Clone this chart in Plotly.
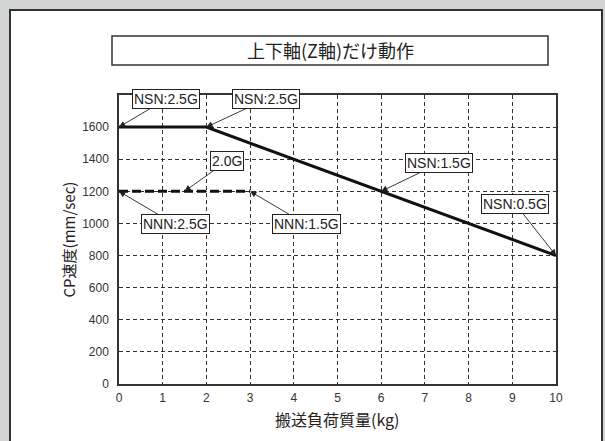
import plotly.graph_objects as go

# data
nsn_x = [0, 2, 10]
nsn_y = [1600, 1600, 800]
nnn_x = [0, 3]
nnn_y = [1200, 1200]

# labelled points: text, x, y, arrow offset (px)
label_text = ["NSN:2.5G", "NSN:2.5G", "2.0G", "NNN:2.5G", "NNN:1.5G", "NSN:1.5G", "NSN:0.5G"]
label_x = [0, 2, 1.5, 0, 3, 6, 10]
label_y = [1600, 1600, 1200, 1200, 1200, 1200, 800]
label_ax = [47, 60, 42, 56, 56, 58, -41]
label_ay = [-28, -28, -30, 33, 33, -28, -52]

y_ticks = [0, 200, 400, 600, 800, 1000, 1200, 1400, 1600]
x_ticks = list(range(0, 11))

title_text = "上下軸(Z軸)だけ動作"
x_title = "搬送負荷質量(kg)"
y_title = "CP速度(mm/sec)"

# plot area in pixels
L, R, T, B = 119, 49, 95, 57
W, H = 605, 441
pw, ph = W - L - R, H - T - B


def px(x):
    return (x - L) / pw


def py(y):
    return (H - B - y) / ph


jp = "Noto Sans CJK JP"
lat = "Liberation Sans, Arial, sans-serif"

fig = go.Figure()
fig.add_trace(go.Scatter(x=nsn_x, y=nsn_y, mode="lines",
                         line=dict(color="#111", width=3), showlegend=False))
fig.add_trace(go.Scatter(x=nnn_x, y=nnn_y, mode="lines",
                         line=dict(color="#111", width=3, dash="9px,4px"), showlegend=False))

for t, x, y, ax, ay in zip(label_text, label_x, label_y, label_ax, label_ay):
    fig.add_annotation(x=x, y=y, text=t, ax=ax, ay=ay, showarrow=True,
                       arrowhead=2, arrowsize=1.4, arrowwidth=0.9, arrowcolor="#222",
                       bgcolor="white", bordercolor="#222", borderwidth=1, borderpad=1,
                       font=dict(family=lat, size=14, color="#222"))

# outer panel and title box
fig.add_shape(type="rect", xref="paper", yref="paper", layer="below",
              x0=px(10), x1=px(602), y0=py(460), y1=py(10),
              fillcolor="white", line=dict(color="#333", width=2))
fig.add_shape(type="rect", xref="paper", yref="paper",
              x0=px(112), x1=px(548), y0=py(65), y1=py(36),
              fillcolor="white", line=dict(color="#333", width=1.5))
fig.add_annotation(xref="paper", yref="paper", x=px(330), y=py(50.5), text=title_text,
                   xanchor="center", yanchor="middle",
                   showarrow=False, font=dict(family=jp, size=18, color="#222"))

fig.add_annotation(xref="paper", yref="paper", x=px(68), y=0.5, text=y_title,
                   xanchor="center", yanchor="middle",
                   textangle=-90, showarrow=False, font=dict(family=jp, size=15, color="#222"))
fig.add_annotation(xref="paper", yref="paper", x=0.5, y=py(419), text=x_title,
                   xanchor="center", yanchor="middle",
                   showarrow=False, font=dict(family=jp, size=16, color="#222"))

grid = dict(showgrid=True, gridcolor="#333", gridwidth=1, griddash="4px,3px",
            showline=True, mirror=True, linecolor="#333", linewidth=1.5,
            zeroline=False, ticks="", tickfont=dict(family=lat, size=12, color="#333"))

fig.update_xaxes(range=[0, 10], tickvals=x_ticks, ticklabelstandoff=2, **grid)
fig.update_yaxes(range=[0, 1800], tickvals=y_ticks, ticklabelstandoff=6, **grid)

fig.update_layout(width=W, height=H, margin=dict(l=L, r=R, t=T, b=B),
                  paper_bgcolor="#d3d4d6", plot_bgcolor="white")

fig.write_html("out.html", config={"displayModeBar": False},
               post_script="document.body.style.margin='0';")
